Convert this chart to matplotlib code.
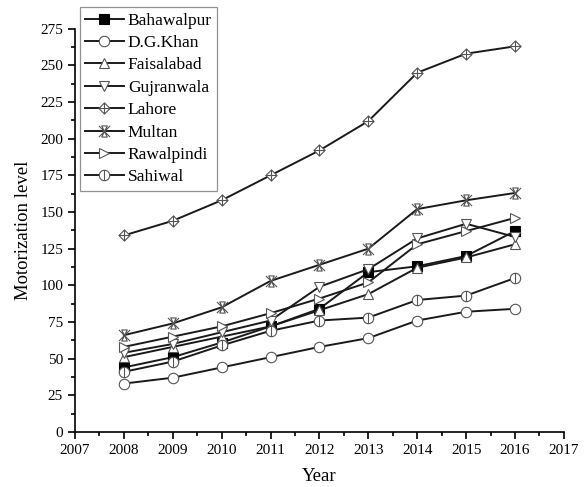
import matplotlib
matplotlib.use("Agg")
import matplotlib.pyplot as plt
from matplotlib.path import Path
from matplotlib.ticker import MultipleLocator

years = [2008, 2009, 2010, 2011, 2012, 2013, 2014, 2015, 2016]

cities = ["Bahawalpur", "D.G.Khan", "Faisalabad", "Gujranwala",
          "Lahore", "Multan", "Rawalpindi", "Sahiwal"]

bahawalpur = [44, 51, 61, 72, 84, 109, 113, 120, 137]
dg_khan = [33, 37, 44, 51, 58, 64, 76, 82, 84]
faisalabad = [51, 58, 65, 72, 83, 94, 112, 119, 128]
gujranwala = [54, 60, 68, 76, 99, 111, 132, 142, 133]
lahore = [134, 144, 158, 175, 192, 212, 245, 258, 263]
multan = [66, 74, 85, 103, 114, 125, 152, 158, 163]
rawalpindi = [58, 65, 72, 81, 91, 102, 128, 137, 146]
sahiwal = [41, 48, 59, 69, 76, 78, 90, 93, 105]

series = [bahawalpur, dg_khan, faisalabad, gujranwala,
          lahore, multan, rawalpindi, sahiwal]

M, L, C = Path.MOVETO, Path.LINETO, Path.CLOSEPOLY

# circle with a vertical bar (Sahiwal)
circle_bar = Path.make_compound_path(
    Path.unit_circle(), Path([(0, -1), (0, 1)], [M, L]))
# diamond with a plus (Lahore)
diamond_plus = Path(
    [(0, 1), (1, 0), (0, -1), (-1, 0), (0, 1),
     (-1, 0), (1, 0), (0, -1), (0, 1)],
    [M, L, L, L, C, M, L, M, L])
# cross with an hourglass (Multan)
cross_glass = Path(
    [(-1, -1), (1, 1), (-1, 1), (1, -1),
     (-0.5, -1), (0.5, -1), (-0.5, 1), (0.5, 1), (-0.5, -1)],
    [M, L, M, L, M, L, L, L, C])

markers = ["s", "o", "^", "v", diamond_plus, cross_glass, ">", circle_bar]
sizes = [6.5, 7.5, 7.5, 7.5, 8, 8, 7.5, 7.5]

plt.rcParams["font.family"] = ["Liberation Serif", "DejaVu Serif"]

fig = plt.figure(figsize=(5.85, 4.87), dpi=100)
ax = fig.add_axes([0.128, 0.113, 0.836, 0.828])

for name, vals, mk, ms in zip(cities, series, markers, sizes):
    if name == "Bahawalpur":
        mfc, mec = "black", "black"
    else:
        mfc, mec = "white", "#555555"
    ax.plot(years, vals, color="#1a1a1a", lw=1.4, marker=mk, ms=ms,
            mfc=mfc, mec=mec, mew=0.8, label=name)

ax.set_xlim(2007, 2017)
ax.set_ylim(0, 275)
ax.xaxis.set_major_locator(MultipleLocator(1))
ax.xaxis.set_minor_locator(MultipleLocator(0.5))
ax.yaxis.set_major_locator(MultipleLocator(25))
ax.yaxis.set_minor_locator(MultipleLocator(12.5))
ax.tick_params(which="major", direction="out", length=5, width=1.2, labelsize=11)
ax.tick_params(which="minor", direction="out", length=3, width=1.2)

ax.spines["top"].set_visible(False)
ax.spines["right"].set_visible(False)
for s in ("left", "bottom"):
    ax.spines[s].set_linewidth(1.2)

ax.set_xlabel("Year", fontsize=13.5, labelpad=8)
ax.set_ylabel("Motorization level", fontsize=13.5, labelpad=6)

leg = fig.legend(loc="upper left", bbox_to_anchor=(0.137, 0.985),
                 fontsize=12.5, frameon=True, fancybox=False,
                 handlelength=2.2, labelspacing=0.36, borderpad=0.3,
                 handletextpad=0.25, borderaxespad=0)
leg.get_frame().set_edgecolor("#777777")
leg.get_frame().set_linewidth(0.9)

fig.savefig("out.png", dpi=100)
